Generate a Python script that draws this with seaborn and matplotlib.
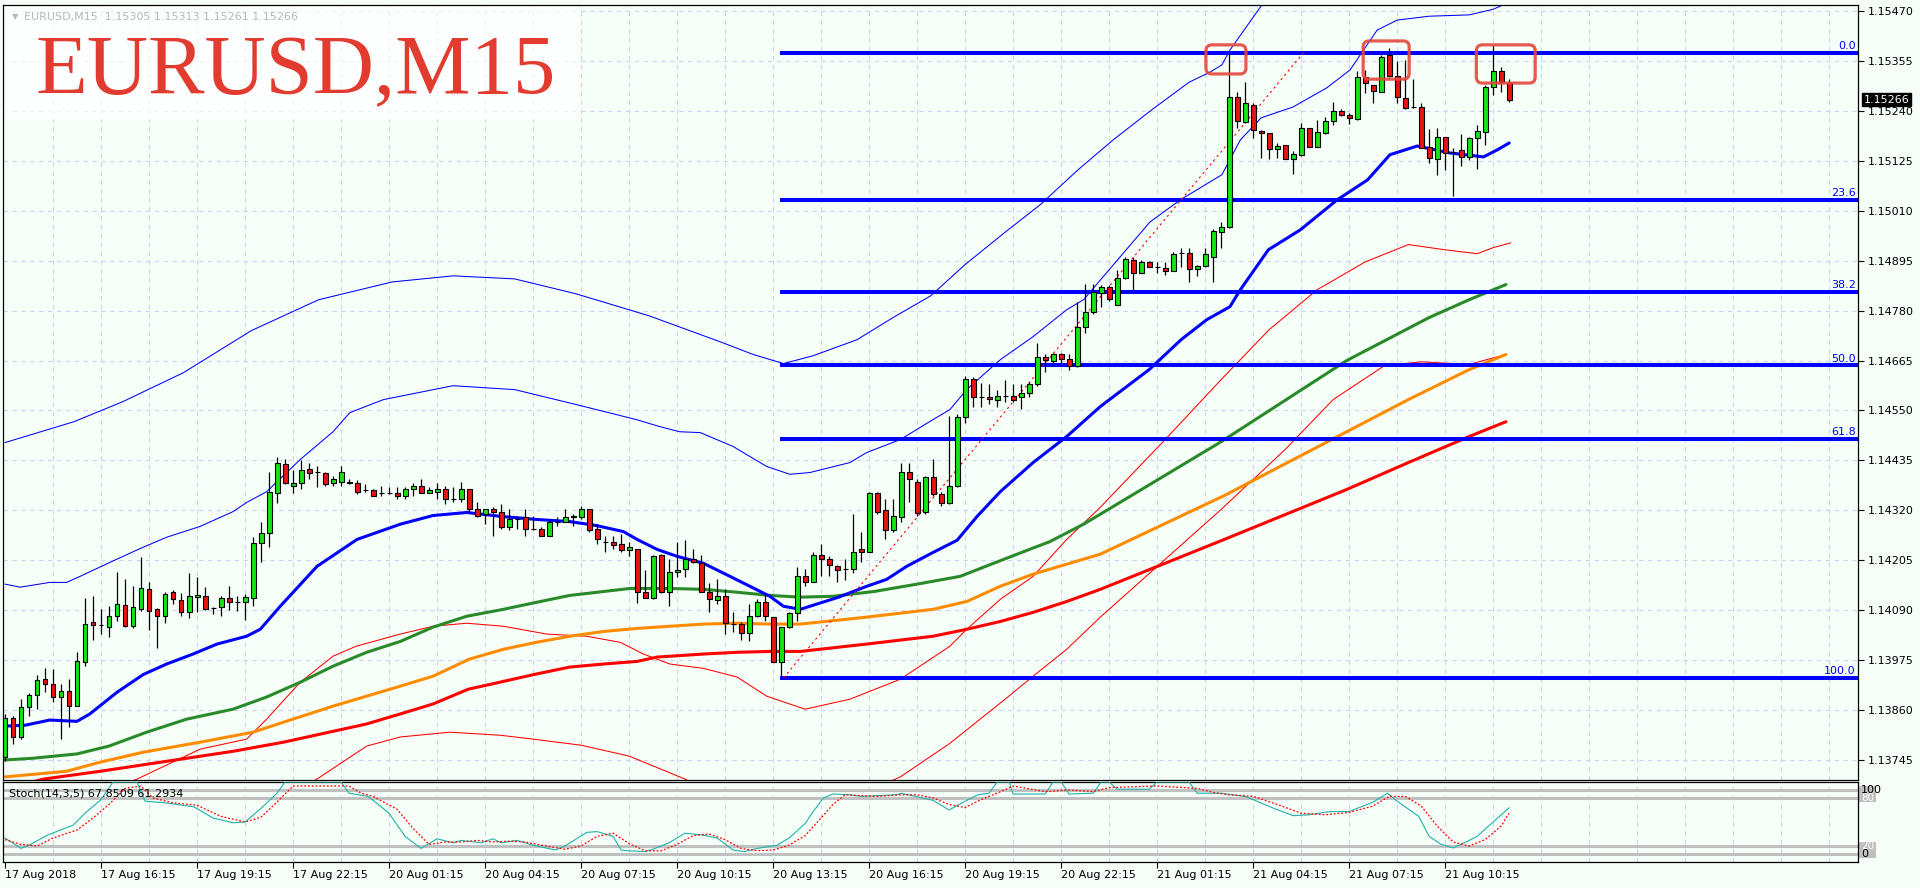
import numpy as np
import pandas as pd
import matplotlib
matplotlib.use("Agg")
import matplotlib.pyplot as plt
from matplotlib.patches import FancyBboxPatch, Rectangle
import seaborn as sns

# EURUSD M15, bar 0 = 17 Aug 13:15
opens = [1.13752, 1.13841, 1.13798, 1.13867, 1.13894, 1.13931, 1.13920, 1.13890, 1.13903, 1.13869,
         1.13970, 1.14062, 1.14055, 1.14051, 1.14076, 1.14101, 1.14053, 1.14092, 1.14138, 1.14092,
         1.14076, 1.14131, 1.14113, 1.14085, 1.14120, 1.14122, 1.14094, 1.14097, 1.14117, 1.14108,
         1.14108, 1.14117, 1.14244, 1.14267, 1.14361, 1.14426, 1.14375, 1.14384, 1.14416, 1.14409,
         1.14407, 1.14384, 1.14386, 1.14386, 1.14382, 1.14366, 1.14366, 1.14359, 1.14359, 1.14359,
         1.14352, 1.14370, 1.14377, 1.14361, 1.14363, 1.14370, 1.14347, 1.14345, 1.14368, 1.14324,
         1.14311, 1.14324, 1.14315, 1.14281, 1.14299, 1.14304, 1.14278, 1.14278, 1.14262, 1.14292,
         1.14292, 1.14304, 1.14304, 1.14322, 1.14276, 1.14248, 1.14248, 1.14242, 1.14228, 1.14232,
         1.14131, 1.14117, 1.14216, 1.14131, 1.14177, 1.14186, 1.14209, 1.14198, 1.14133, 1.14113,
         1.14122, 1.14058, 1.14058, 1.14037, 1.14076, 1.14108, 1.14074, 1.13970, 1.14051, 1.14083,
         1.14168, 1.14154, 1.14216, 1.14209, 1.14191, 1.14186, 1.14184, 1.14230, 1.14225, 1.14361,
         1.14320, 1.14274, 1.14304, 1.14409, 1.14386, 1.14315, 1.14396, 1.14357, 1.14338, 1.14375,
         1.14536, 1.14623, 1.14580, 1.14582, 1.14575, 1.14584, 1.14584, 1.14580, 1.14591, 1.14610,
         1.14672, 1.14665, 1.14679, 1.14669, 1.14653, 1.14743, 1.14777, 1.14821, 1.14835, 1.14794,
         1.14856, 1.14897, 1.14867, 1.14892, 1.14881, 1.14879, 1.14872, 1.14913, 1.14913, 1.14876,
         1.14883, 1.14904, 1.14961, 1.14973, 1.15272, 1.15214, 1.15254, 1.15194, 1.15189, 1.15152,
         1.15162, 1.15129, 1.15139, 1.15201, 1.15157, 1.15189, 1.15217, 1.15240, 1.15231, 1.15221,
         1.15318, 1.15300, 1.15283, 1.15369, 1.15320, 1.15270, 1.15249, 1.15249, 1.15157, 1.15129,
         1.15180, 1.15145, 1.15150, 1.15134, 1.15178, 1.15191, 1.15295, 1.15332, 1.15305]
highs = [1.13850, 1.13846, 1.13885, 1.13899, 1.13940, 1.13956, 1.13954, 1.13920, 1.13931, 1.13993,
         1.14117, 1.14122, 1.14092, 1.14099, 1.14177, 1.14161, 1.14145, 1.14212, 1.14156, 1.14094,
         1.14131, 1.14136, 1.14129, 1.14175, 1.14166, 1.14143, 1.14097, 1.14122, 1.14145, 1.14122,
         1.14127, 1.14258, 1.14292, 1.14409, 1.14442, 1.14439, 1.14414, 1.14435, 1.14430, 1.14423,
         1.14409, 1.14400, 1.14421, 1.14391, 1.14389, 1.14380, 1.14368, 1.14377, 1.14373, 1.14373,
         1.14373, 1.14382, 1.14393, 1.14373, 1.14382, 1.14375, 1.14373, 1.14386, 1.14368, 1.14340,
         1.14324, 1.14327, 1.14334, 1.14324, 1.14306, 1.14322, 1.14306, 1.14281, 1.14299, 1.14304,
         1.14322, 1.14311, 1.14329, 1.14322, 1.14288, 1.14260, 1.14260, 1.14265, 1.14246, 1.14232,
         1.14182, 1.14216, 1.14219, 1.14207, 1.14248, 1.14251, 1.14232, 1.14216, 1.14152, 1.14161,
         1.14138, 1.14085, 1.14062, 1.14104, 1.14115, 1.14129, 1.14074, 1.14051, 1.14085, 1.14189,
         1.14184, 1.14225, 1.14242, 1.14214, 1.14193, 1.14207, 1.14311, 1.14271, 1.14363, 1.14363,
         1.14345, 1.14345, 1.14430, 1.14428, 1.14393, 1.14398, 1.14439, 1.14363, 1.14538, 1.14541,
         1.14630, 1.14626, 1.14614, 1.14610, 1.14598, 1.14621, 1.14610, 1.14610, 1.14616, 1.14706,
         1.14681, 1.14683, 1.14683, 1.14679, 1.14800, 1.14842, 1.14842, 1.14840, 1.14840, 1.14874,
         1.14904, 1.14904, 1.14897, 1.14895, 1.14892, 1.14892, 1.14915, 1.14925, 1.14925, 1.14885,
         1.14925, 1.14968, 1.14984, 1.15374, 1.15283, 1.15306, 1.15258, 1.15196, 1.15189, 1.15166,
         1.15162, 1.15148, 1.15212, 1.15201, 1.15219, 1.15226, 1.15260, 1.15244, 1.15235, 1.15332,
         1.15334, 1.15300, 1.15369, 1.15385, 1.15355, 1.15357, 1.15313, 1.15258, 1.15198, 1.15201,
         1.15180, 1.15155, 1.15187, 1.15180, 1.15208, 1.15300, 1.15392, 1.15341, 1.15313]
lows = [1.13742, 1.13782, 1.13793, 1.13846, 1.13862, 1.13901, 1.13878, 1.13793, 1.13821, 1.13869,
        1.13961, 1.14021, 1.14035, 1.14028, 1.14064, 1.14051, 1.14048, 1.14087, 1.14044, 1.14002,
        1.14060, 1.14104, 1.14076, 1.14071, 1.14085, 1.14090, 1.14081, 1.14076, 1.14090, 1.14087,
        1.14067, 1.14099, 1.14202, 1.14235, 1.14336, 1.14380, 1.14361, 1.14370, 1.14393, 1.14373,
        1.14375, 1.14375, 1.14377, 1.14380, 1.14357, 1.14363, 1.14352, 1.14352, 1.14357, 1.14345,
        1.14347, 1.14352, 1.14359, 1.14359, 1.14345, 1.14334, 1.14340, 1.14340, 1.14315, 1.14304,
        1.14288, 1.14260, 1.14276, 1.14274, 1.14276, 1.14262, 1.14274, 1.14262, 1.14262, 1.14285,
        1.14292, 1.14283, 1.14299, 1.14271, 1.14242, 1.14225, 1.14232, 1.14225, 1.14214, 1.14106,
        1.14117, 1.14115, 1.14129, 1.14099, 1.14166, 1.14166, 1.14198, 1.14131, 1.14085, 1.14104,
        1.14035, 1.14039, 1.14021, 1.14018, 1.14074, 1.14064, 1.13970, 1.13934, 1.14048, 1.14064,
        1.14145, 1.14154, 1.14168, 1.14168, 1.14154, 1.14159, 1.14175, 1.14202, 1.14223, 1.14311,
        1.14255, 1.14269, 1.14294, 1.14340, 1.14308, 1.14311, 1.14354, 1.14329, 1.14334, 1.14373,
        1.14520, 1.14559, 1.14559, 1.14566, 1.14557, 1.14570, 1.14570, 1.14554, 1.14582, 1.14607,
        1.14639, 1.14660, 1.14660, 1.14644, 1.14649, 1.14729, 1.14771, 1.14789, 1.14803, 1.14794,
        1.14853, 1.14828, 1.14867, 1.14881, 1.14867, 1.14862, 1.14872, 1.14881, 1.14846, 1.14860,
        1.14881, 1.14846, 1.14925, 1.14971, 1.15201, 1.15212, 1.15178, 1.15132, 1.15129, 1.15132,
        1.15129, 1.15095, 1.15136, 1.15157, 1.15157, 1.15187, 1.15208, 1.15228, 1.15210, 1.15219,
        1.15281, 1.15258, 1.15283, 1.15318, 1.15258, 1.15244, 1.15247, 1.15155, 1.15120, 1.15093,
        1.15104, 1.15044, 1.15113, 1.15127, 1.15106, 1.15162, 1.15277, 1.15283, 1.15261]
closes = [1.13841, 1.13798, 1.13867, 1.13894, 1.13929, 1.13920, 1.13890, 1.13903, 1.13869, 1.13972,
          1.14058, 1.14055, 1.14055, 1.14076, 1.14104, 1.14053, 1.14097, 1.14140, 1.14087, 1.14076,
          1.14127, 1.14115, 1.14085, 1.14122, 1.14124, 1.14092, 1.14094, 1.14117, 1.14108, 1.14108,
          1.14120, 1.14244, 1.14267, 1.14363, 1.14430, 1.14384, 1.14384, 1.14414, 1.14405, 1.14409,
          1.14380, 1.14391, 1.14409, 1.14382, 1.14363, 1.14366, 1.14354, 1.14359, 1.14359, 1.14352,
          1.14370, 1.14377, 1.14361, 1.14366, 1.14370, 1.14347, 1.14347, 1.14368, 1.14322, 1.14308,
          1.14324, 1.14317, 1.14281, 1.14301, 1.14299, 1.14276, 1.14276, 1.14262, 1.14292, 1.14292,
          1.14304, 1.14306, 1.14322, 1.14274, 1.14255, 1.14248, 1.14239, 1.14228, 1.14235, 1.14131,
          1.14117, 1.14214, 1.14131, 1.14177, 1.14182, 1.14207, 1.14200, 1.14131, 1.14115, 1.14122,
          1.14060, 1.14058, 1.14037, 1.14076, 1.14110, 1.14076, 1.13970, 1.14051, 1.14083, 1.14168,
          1.14154, 1.14216, 1.14207, 1.14193, 1.14182, 1.14186, 1.14225, 1.14225, 1.14361, 1.14317,
          1.14274, 1.14306, 1.14409, 1.14391, 1.14313, 1.14396, 1.14357, 1.14338, 1.14375, 1.14536,
          1.14623, 1.14582, 1.14580, 1.14577, 1.14584, 1.14584, 1.14573, 1.14591, 1.14612, 1.14672,
          1.14667, 1.14679, 1.14669, 1.14653, 1.14743, 1.14777, 1.14823, 1.14835, 1.14807, 1.14856,
          1.14899, 1.14867, 1.14892, 1.14881, 1.14881, 1.14872, 1.14911, 1.14913, 1.14876, 1.14883,
          1.14911, 1.14964, 1.14973, 1.15272, 1.15217, 1.15258, 1.15196, 1.15189, 1.15152, 1.15159,
          1.15129, 1.15141, 1.15201, 1.15157, 1.15191, 1.15217, 1.15240, 1.15231, 1.15224, 1.15318,
          1.15304, 1.15286, 1.15364, 1.15320, 1.15272, 1.15247, 1.15249, 1.15155, 1.15132, 1.15180,
          1.15143, 1.15145, 1.15134, 1.15178, 1.15194, 1.15295, 1.15332, 1.15306, 1.15266]

# indicator lines (bar position, price)
ma_blue_x = [0, 2.5, 5.6, 9, 10.6, 14, 17.3, 20.2, 23.5, 26.5, 30.2, 31.9, 34.4, 39, 44, 49.4, 53.5,
             57.7, 62, 66.4, 70.6, 73.9, 77.3, 79, 81.5, 84, 87.3, 90.6, 93.1, 95.6, 97.3, 99.4,
             104.2, 107.7, 110.2, 112.7, 116, 119, 121.5, 124.4, 128.5, 132.7, 136.9, 143, 147,
             150.2, 153.1, 154.4, 157.9, 161.9, 166.5, 170.3, 173.1, 176.5, 180.6, 184.8, 186.5, 188]
ma_blue = [1.13823, 1.13825, 1.13837, 1.13834, 1.13851, 1.13901, 1.13942, 1.13966, 1.13989, 1.14012,
           1.14030, 1.14046, 1.14099, 1.14191, 1.14253, 1.14288, 1.14308, 1.14315, 1.14306, 1.14299,
           1.14294, 1.14285, 1.14271, 1.14253, 1.14230, 1.14214, 1.14198, 1.14168, 1.14145, 1.14122,
           1.14099, 1.14092, 1.14120, 1.14145, 1.14161, 1.14191, 1.14223, 1.14251, 1.14306, 1.14363,
           1.14430, 1.14490, 1.14559, 1.14644, 1.14713, 1.14759, 1.14789, 1.14828, 1.14920, 1.14966,
           1.15035, 1.15081, 1.15139, 1.15159, 1.15143, 1.15134, 1.15150, 1.15166]

ma_green_x = [0, 3.5, 9, 13, 17.7, 22.7, 28.5, 32.7, 36.9, 41, 45.2, 49.4, 53.5, 57.7, 62.3, 66.4,
              70.6, 74.8, 78.1, 83.1, 87.3, 91.7, 95.6, 99.4, 103.5, 108.6, 114, 119.4, 122.3,
              126.5, 130.6, 134.8, 136.9, 152, 167.7, 178, 183, 187.6]
ma_green = [1.13745, 1.13749, 1.13759, 1.13777, 1.13809, 1.13839, 1.13862, 1.13890, 1.13924, 1.13961,
            1.13993, 1.14018, 1.14051, 1.14076, 1.14092, 1.14108, 1.14124, 1.14133, 1.14140, 1.14140,
            1.14138, 1.14131, 1.14124, 1.14120, 1.14122, 1.14133, 1.14150, 1.14168, 1.14189, 1.14219,
            1.14248, 1.14288, 1.14311, 1.14478, 1.14665, 1.14764, 1.14805, 1.14840]

ma_orange_x = [0, 7.7, 11.9, 17.3, 24.4, 31, 34.8, 41, 45.2, 49.4, 53.5, 58, 62.3, 66.4, 70.6, 74.8,
               79, 83.1, 87.3, 91.5, 95.6, 99.4, 107.7, 116, 120.2, 124.4, 128.5, 132.7, 136.9,
               152.4, 167.7, 175.4, 183, 187.6]
ma_orange = [1.13706, 1.13719, 1.13740, 1.13763, 1.13786, 1.13809, 1.13832, 1.13869, 1.13892, 1.13915,
             1.13938, 1.13977, 1.14000, 1.14016, 1.14030, 1.14041, 1.14048, 1.14053, 1.14058, 1.14060,
             1.14058, 1.14058, 1.14074, 1.14092, 1.14110, 1.14145, 1.14173, 1.14196, 1.14219, 1.14354,
             1.14501, 1.14575, 1.14644, 1.14679]

ma_red_x = [0, 4.8, 11.9, 20.2, 28.5, 34.8, 41, 45.2, 49.4, 53.5, 57.9, 62.3, 66.4, 70.6, 74.8, 79,
            81.5, 87.3, 91.5, 95.6, 99.4, 107.7, 116, 120.2, 124.4, 128.5, 132.7, 136.9, 152.4,
            167.7, 175.4, 183, 187.6]
ma_red = [1.13678, 1.13701, 1.13719, 1.13742, 1.13765, 1.13786, 1.13811, 1.13828, 1.13851, 1.13874,
          1.13908, 1.13926, 1.13943, 1.13959, 1.13966, 1.13972, 1.13982, 1.13989, 1.13993, 1.13995,
          1.13995, 1.14012, 1.14030, 1.14046, 1.14064, 1.14085, 1.14110, 1.14138, 1.14253, 1.14368,
          1.14430, 1.14490, 1.14524]

band_red_up_x = [12, 16.5, 24.4, 30.2, 32.7, 36.9, 41, 43.9, 49.4, 53.5, 57.7, 62.3, 67.7, 72.7, 76.9,
                 79.8, 83.1, 87.3, 91.5, 95.2, 100, 105.6, 111.9, 118.1, 120.2, 124.4, 128.5, 132.7,
                 136.9, 145, 152, 158, 164, 170, 175.4, 180, 184, 186, 188.2]
band_red_up = [1.13667, 1.13701, 1.13770, 1.13793, 1.13839, 1.13924, 1.13984, 1.14007, 1.14035, 1.14053,
               1.14060, 1.14053, 1.14035, 1.14030, 1.14016, 1.13989, 1.13966, 1.13956, 1.13936, 1.13892,
               1.13862, 1.13885, 1.13931, 1.14007, 1.14046, 1.14115, 1.14168, 1.14253, 1.14327, 1.14483,
               1.14621, 1.14736, 1.14828, 1.14892, 1.14932, 1.14920, 1.14911, 1.14925, 1.14936]

band_red_dn_x = [37, 39, 45.2, 49.4, 55.6, 61.9, 66, 72, 78, 85, 97, 111.9, 118, 125, 128.5, 132.7,
                 136.9, 145, 152, 160, 166, 172.4, 177, 183, 187.6]
band_red_dn = [1.13678, 1.13701, 1.13777, 1.13798, 1.13809, 1.13802, 1.13793, 1.13779, 1.13754, 1.13701,
               1.13586, 1.13706, 1.13782, 1.13885, 1.13938, 1.14000, 1.14074, 1.14207, 1.14322, 1.14460,
               1.14575, 1.14653, 1.14662, 1.14656, 1.14679]

band_blue_out_x = [0, 8.6, 14.7, 22.3, 30.8, 39.2, 48.4, 56, 63.7, 71.3, 80.5, 89.7, 93.5, 97.3, 101,
                   106.5, 111, 115.7, 120, 124.9, 129.4, 134.1, 138.5, 143.3, 148, 150.6, 152.1,
                   153.1, 156.9, 160]
band_blue_out = [1.14476, 1.14524, 1.14570, 1.14637, 1.14734, 1.14805, 1.14846, 1.14860, 1.14853, 1.14819,
                 1.14768, 1.14706, 1.14679, 1.14658, 1.14676, 1.14713, 1.14764, 1.14814, 1.14886, 1.14959,
                 1.15024, 1.15104, 1.15173, 1.15242, 1.15306, 1.15329, 1.15346, 1.15380, 1.15479, 1.15553]

band_blue_in_x = [0, 1.9, 5.6, 7.7, 9.4, 13.1, 16.9, 20.2, 24.4, 28.5, 30.2, 32.7, 36.9, 41, 43.1, 47.3,
                  56, 63.7, 71.3, 78.9, 81.8, 84.3, 86.9, 91, 95.2, 98.1, 100.6, 105.6, 107.7, 111.9,
                  116, 118.1, 120.2, 124.4, 128.5, 132.7, 134.8, 143.1, 146.9, 152.1, 154.4, 157, 161,
                  165.2, 168.1, 171.5, 174, 178, 183, 186, 188]
band_blue_in = [1.14150, 1.14143, 1.14154, 1.14154, 1.14168, 1.14200, 1.14232, 1.14258, 1.14283, 1.14317,
                1.14338, 1.14363, 1.14437, 1.14501, 1.14545, 1.14575, 1.14607, 1.14598, 1.14564, 1.14529,
                1.14513, 1.14501, 1.14499, 1.14467, 1.14421, 1.14403, 1.14407, 1.14430, 1.14453, 1.14483,
                1.14529, 1.14552, 1.14598, 1.14667, 1.14720, 1.14782, 1.14805, 1.14984, 1.15035, 1.15093,
                1.15173, 1.15224, 1.15249, 1.15293, 1.15334, 1.15426, 1.15449, 1.15458, 1.15461, 1.15474,
                1.15490]

# Stochastic(14,3,5)
stoch_k_x = [0, 2, 3, 5.4, 8.5, 10, 12, 13.5, 16.5, 17.5, 20, 23.6, 26, 28.5, 30, 32, 34, 35, 42, 43,
             45.4, 48, 50, 52, 54, 56, 57, 59.5, 61, 62, 64, 66, 68.8, 70, 72.7, 74, 76, 77, 78, 80,
             81, 83, 85, 87, 89, 91, 92.4, 94, 96.5, 98, 100, 101, 102.3, 103.5, 105.6, 107, 109,
             111.4, 112, 113.8, 116, 118, 120, 121.6, 123, 124, 125.5, 126, 130, 131, 132, 133, 136,
             137, 138, 139, 143, 144, 148, 149, 152, 155, 156, 158.6, 161, 163, 165.5, 168, 171,
             172.8, 174, 176.7, 178, 179.5, 181, 182.8, 184, 186, 188]
stoch_k = [30, 17, 21, 34, 46, 61, 78, 100, 100, 76, 74, 69, 55, 49, 50, 67, 86, 100, 100, 86,
           82, 61, 32, 17, 29, 24, 27, 24, 29, 24, 27, 21, 15, 20, 37, 38, 32, 15, 14, 13,
           16, 24, 36, 34, 30, 15, 13, 17, 21, 30, 48, 63, 80, 85, 84, 82, 83, 84, 86, 82,
           77, 65, 76, 84, 86, 100, 100, 85, 85, 100, 100, 85, 86, 100, 100, 91, 91, 100, 100, 86,
           86, 82, 78, 67, 58, 59, 63, 63, 75, 86, 76, 57, 32, 22, 17.5, 26, 32, 50, 67.85]
stoch_d_x = [0, 2, 4, 6, 9, 11, 13, 15, 17, 18.5, 21, 24, 27, 30, 32, 34, 36, 43, 44.5, 46, 49, 51,
             53, 55, 57, 59, 61, 63, 65, 67, 70, 72, 74, 76, 78, 80, 82, 84, 86, 88, 90, 92, 94, 96,
             98, 100, 102, 103.5, 105, 107, 109, 112, 114, 116, 118, 120, 122, 124, 126, 130, 133,
             136, 138, 144, 149, 151, 153, 156, 159, 162, 165, 168, 171, 173, 175, 177, 179, 181,
             183, 185, 187, 188]
stoch_d = [28, 22, 20, 30, 40, 55, 72, 92, 95, 80, 74, 71, 57, 50, 56, 75, 95, 95, 86, 82, 66, 42,
           22, 25, 25, 27, 25, 26, 25, 21, 16, 20, 32, 36, 23, 14, 14, 22, 33, 35, 28, 17, 14, 15,
           21, 33, 55, 72, 84, 83, 82, 84, 84, 80, 72, 68, 78, 86, 95, 88, 90, 88, 93, 95, 92, 87,
           84, 82, 72, 61, 59, 62, 70, 82, 82, 70, 45, 25, 20, 28, 45, 61.29]

# Fibonacci retracement
fib_low, fib_high = 1.13934, 1.15374
fib_start_bar, fib_end_bar = 97.3, 162.3
fib_levels = [0.0, 23.6, 38.2, 50.0, 61.8, 100.0]

# highlighted tops (bar range, price range)
boxes = [(150.1, 155.1, 1.15325, 1.15392),
         (169.75, 175.5, 1.15313, 1.15401),
         (183.9, 191.25, 1.15304, 1.15392)]

price_ticks = [1.13745, 1.13860, 1.13975, 1.14090, 1.14205, 1.14320, 1.14435, 1.14550,
               1.14665, 1.14780, 1.14895, 1.15010, 1.15125, 1.15240, 1.15355, 1.15470]
time_bars = [0, 12, 24, 36, 48, 60, 72, 84, 96, 108, 120, 132, 144, 156, 168, 180]
time_labels = ["17 Aug 2018", "17 Aug 16:15", "17 Aug 19:15", "17 Aug 22:15", "20 Aug 01:15",
               "20 Aug 04:15", "20 Aug 07:15", "20 Aug 10:15", "20 Aug 13:15", "20 Aug 16:15",
               "20 Aug 19:15", "20 Aug 22:15", "21 Aug 01:15", "21 Aug 04:15", "21 Aug 07:15",
               "21 Aug 10:15"]
last_price = 1.15266

BG = "#f5fff8"
GRID = "#cdd3f3"
BULL = "#14e614"
BEAR = "#ee1111"
W, H = 1920, 888

sns.set_theme(style="white", rc={"axes.facecolor": BG, "figure.facecolor": BG})
plt.rcParams["font.family"] = ["DejaVu Sans"]


def box(x0, y0, x1, y1):
    return [x0 / W, 1 - y1 / H, (x1 - x0) / W, (y1 - y0) / H]


def line(axis, xs, ys, color, lw, ls="-", z=2):
    sns.lineplot(x=xs, y=ys, ax=axis, color=color, linewidth=lw, linestyle=ls,
                 sort=False, estimator=None, legend=False, zorder=z)


fig = plt.figure(figsize=(W / 100, H / 100), dpi=100)
ax = fig.add_axes(box(3, 5, 1858, 780))
axs = fig.add_axes(box(3, 782, 1858, 862), sharex=ax)

x_max = 231.6
ax.set_xlim(-0.25, x_max)
ax.set_ylim(1.136989, 1.154838)
axs.set_ylim(0, 100)

for a in (ax, axs):
    a.set_facecolor(BG)
    for s in a.spines.values():
        s.set_color("black")
        s.set_linewidth(0.9)
    for b in range(6, 232, 6):
        a.axvline(b, color=GRID, lw=0.8, ls=(0, (4, 4)), zorder=0.5)
for p in price_ticks:
    ax.axhline(p, color=GRID, lw=0.8, ls=(0, (4, 4)), zorder=0.5)

# title block
ax.add_patch(Rectangle((0, 0.852), 0.311, 0.2, transform=ax.transAxes,
                       facecolor="white", edgecolor="none", alpha=0.75, zorder=1))

# indicator lines
line(ax, band_blue_out_x, band_blue_out, "#0000ff", 0.75)
line(ax, band_blue_in_x, band_blue_in, "#0000ff", 0.75)
line(ax, band_red_up_x, band_red_up, "#ff0000", 0.75)
line(ax, band_red_dn_x, band_red_dn, "#ff0000", 0.75)
line(ax, ma_red_x, ma_red, "#ff0000", 2.2)
line(ax, ma_orange_x, ma_orange, "#ff8c00", 2.2)
line(ax, ma_green_x, ma_green, "#2a8a2a", 2.2)
line(ax, ma_blue_x, ma_blue, "#0000ff", 2.2)

# fibonacci
rng = fib_high - fib_low
for lev in fib_levels:
    p = fib_high - rng * lev / 100
    ax.hlines(p, fib_start_bar - 0.4, x_max, color="#0000ff", lw=2.9, zorder=3)
    ax.text(x_max - 0.3, p + 0.00004, f"{lev:.1f}", color="#0000ff", fontsize=8,
            ha="right", va="bottom", zorder=3)
ax.plot([fib_start_bar, fib_end_bar], [fib_low, fib_high], color="#ff0000",
        lw=0.8, ls=(0, (2, 3)), zorder=3)

# candles
df = pd.DataFrame({"o": opens, "h": highs, "l": lows, "c": closes})
df["i"] = np.arange(len(df))
up = df["c"] >= df["o"]
ax.vlines(df["i"], df["l"], df["h"], color="black", lw=0.9, zorder=4)
ax.bar(df["i"], (df["c"] - df["o"]).abs(), bottom=df[["o", "c"]].min(axis=1), width=0.62,
       color=np.where(up, BULL, BEAR), edgecolor="black", linewidth=0.8, zorder=5)

# red boxes on the tops
for x0, x1, y0, y1 in boxes:
    ax.add_patch(FancyBboxPatch((x0, y0), x1 - x0, y1 - y0,
                                boxstyle="round,pad=0,rounding_size=0.75",
                                mutation_aspect=8 / 43420, facecolor="none",
                                edgecolor="#e5473d", lw=2.3, alpha=0.9, zorder=6))

# price axis on the right
ax.yaxis.tick_right()
ax.set_yticks(price_ticks)
ax.set_yticklabels([f"{p:.5f}" for p in price_ticks])
ax.tick_params(axis="y", direction="out", length=4, width=0.8, pad=3, labelsize=8,
               colors="black", right=True, left=False)
ax.tick_params(axis="x", bottom=False, labelbottom=False)
ax.annotate(f"{last_price:.5f}", xy=(1, last_price), xycoords=("axes fraction", "data"),
            xytext=(4, 0), textcoords="offset points", va="center", ha="left",
            fontsize=8, color="white", annotation_clip=False, zorder=10,
            bbox=dict(boxstyle="square,pad=0.15", fc="black", ec="black"))

# stochastic panel
ytr = axs.get_yaxis_transform()
for lev in (90, 80, 20, 10):
    axs.axhline(lev, color="#c0c0c0", lw=2.2, zorder=1)
    axs.add_patch(Rectangle((1.0, lev - 4.5), 0.0095, 9, transform=ytr, facecolor="#c0c0c0",
                            edgecolor="none", clip_on=False, zorder=1))
for lev in (80, 20):
    axs.text(1.0015, lev, f"{lev}", transform=ytr, fontsize=7.5, color="white",
             va="center", ha="left", clip_on=False, zorder=2)
axs.text(1.0015, 90, "100", transform=ytr, fontsize=8, color="black",
         va="center", ha="left", clip_on=False, zorder=3)
axs.text(1.0015, 10, "0", transform=ytr, fontsize=8, color="black",
         va="center", ha="left", clip_on=False, zorder=3)
line(axs, stoch_k_x, stoch_k, "#20b2aa", 0.8, z=3)
line(axs, stoch_d_x, stoch_d, "#ff0000", 0.9, ls=(0, (1.5, 1.5)), z=3)
axs.text(0.003, 0.86, "Stoch(14,3,5) 67.8509 61.2934", transform=axs.transAxes,
         fontsize=8, color="black", va="center", ha="left", zorder=4)
axs.set_yticks([])
axs.set_xticks(time_bars)
axs.set_xticklabels(time_labels, fontsize=8, ha="left")
axs.tick_params(axis="x", direction="out", length=4, width=0.8, pad=2, colors="black", bottom=True)
axs.set_xlabel("")
axs.set_ylabel("")
ax.set_xlabel("")
ax.set_ylabel("")

# headers
fig.text(12 / W, 1 - 17 / H, "\u25bc", fontsize=6, color="#b8b8b8", va="center")
fig.text(24 / W, 1 - 17 / H, "EURUSD,M15  1.15305 1.15313 1.15261 1.15266", fontsize=8,
         color="#b8b8b8", va="center")
fig.text(36 / W, 1 - 94 / H, "EURUSD,M15", fontsize=61, family=["Liberation Serif"],
         color="#e23b30", va="baseline", ha="left")

fig.savefig("out.png", dpi=100, facecolor=BG)
